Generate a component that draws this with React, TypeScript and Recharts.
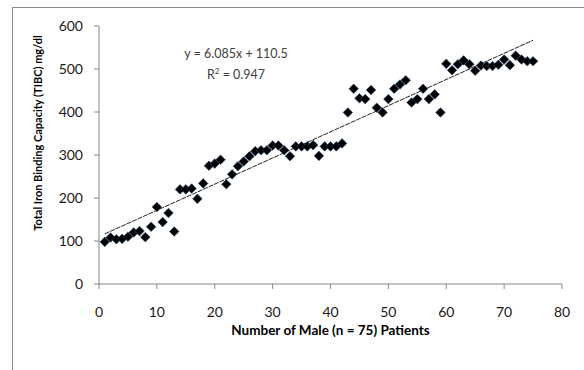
import React from 'react';
import { ScatterChart, Scatter, XAxis, YAxis, ReferenceLine, Label } from 'recharts';

// patient number on x, TIBC (mg/dl) on y
const patients = [
  1, 2, 3, 4, 5, 6, 7, 8, 9, 10, 11, 12, 13, 14, 15, 16, 17, 18, 19, 20, 21, 22, 23, 24, 25,
  26, 27, 28, 29, 30, 31, 32, 33, 34, 35, 36, 37, 38, 39, 40, 41, 42, 43, 44, 45, 46, 47, 48, 49, 50,
  51, 52, 53, 54, 55, 56, 57, 58, 59, 60, 61, 62, 63, 64, 65, 66, 67, 68, 69, 70, 71, 72, 73, 74, 75,
];
const tibc = [
  98, 108, 104, 105, 110, 120, 123, 109, 133, 179, 144, 165, 122, 220, 220, 222, 198, 234, 275, 280,
  289, 232, 255, 274, 285, 297, 309, 311, 311, 322, 322, 311, 297, 320, 320, 320, 323, 298, 320, 320,
  320, 327, 399, 454, 432, 430, 451, 410, 399, 430, 454, 464, 474, 422, 430, 454, 430, 441, 399, 512,
  497, 511, 520, 511, 496, 508, 507, 507, 510, 522, 509, 531, 522, 518, 518,
];
const xTicks = [0, 10, 20, 30, 40, 50, 60, 70, 80];
const yTicks = [0, 100, 200, 300, 400, 500, 600];

// linear fit shown on the chart
const slope = 6.085;
const intercept = 110.5;
const rSquared = 0.947;

const points = patients.map((p, i) => ({ patient: p, tibc: tibc[i] }));
const fitStart = { x: patients[0], y: slope * patients[0] + intercept };
const fitEnd = { x: patients[patients.length - 1], y: slope * patients[patients.length - 1] + intercept };

const FONT = 'Lato, "Open Sans", sans-serif';

const Diamond = (props: any) => {
  const { cx, cy } = props;
  const r = 4.8;
  return (
    <polygon
      points={`${cx},${cy - r} ${cx + r},${cy} ${cx},${cy + r} ${cx - r},${cy}`}
      fill="#000"
      stroke="#2a4a78"
      strokeWidth={0.6}
    />
  );
};

export default function App() {
  return (
    <div style={{ position: 'absolute', left: 0, top: 0, width: 584, height: 370, background: '#fff', overflow: 'hidden', fontFamily: FONT }}>
      <div style={{ position: 'absolute', left: 12, top: 7, width: 620, height: 420, border: '1px solid #8c8c8c' }} />
      <ScatterChart
        width={584}
        height={370}
        margin={{ top: 26, right: 22, bottom: 56, left: 39 }}
        style={{ position: 'absolute', left: 0, top: 0 }}
      >
        <XAxis
          type="number"
          dataKey="patient"
          domain={[0, 80]}
          ticks={xTicks}
          height={30}
          stroke="#868686"
          tickSize={5}
          tickMargin={18}
          tick={{ fill: '#1a1a1a', fontSize: 14, fontFamily: FONT }}
        >
          <Label
            value="Number of Male (n = 75) Patients"
            position="insideBottom"
            offset={-21}
            style={{ fill: '#000', fontSize: 13.5, fontWeight: 700, fontFamily: FONT }}
          />
        </XAxis>
        <YAxis
          type="number"
          dataKey="tibc"
          domain={[0, 600]}
          ticks={yTicks}
          width={60}
          stroke="#868686"
          tickSize={5}
          tickMargin={11}
          tick={{ fill: '#1a1a1a', fontSize: 14, fontFamily: FONT }}
        />
        <ReferenceLine
          segment={[fitStart, fitEnd]}
          stroke="#222"
          strokeWidth={1}
          strokeDasharray="5 1"
          ifOverflow="visible"
        />
        <Scatter data={points} shape={Diamond} isAnimationActive={false} />
      </ScatterChart>
      <div
        style={{
          position: 'absolute',
          left: 37,
          top: 133,
          transform: 'translate(-50%, -50%) rotate(-90deg)',
          whiteSpace: 'nowrap',
          fontSize: 11,
          fontWeight: 700,
          color: '#000',
        }}
      >
        Total Iron Binding Capacity (TIBC) mg/dl
      </div>
      <div style={{ position: 'absolute', left: 236, top: 53, transform: 'translate(-50%, -50%)', whiteSpace: 'nowrap', fontSize: 12.5, color: '#404040' }}>
        y = {slope}x + {intercept}
      </div>
      <div style={{ position: 'absolute', left: 236, top: 74, transform: 'translate(-50%, -50%)', whiteSpace: 'nowrap', fontSize: 12.5, color: '#404040' }}>
        R<sup style={{ fontSize: 8, verticalAlign: 'top', lineHeight: 1 }}>2</sup> = {rSquared}
      </div>
    </div>
  );
}
